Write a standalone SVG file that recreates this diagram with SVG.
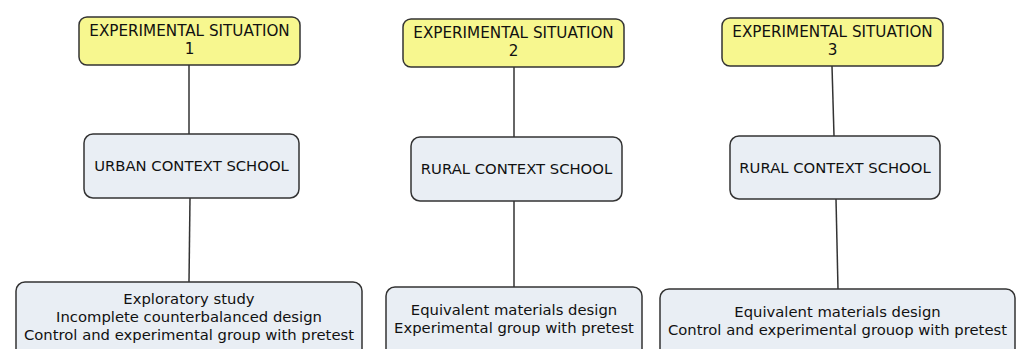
<svg xmlns="http://www.w3.org/2000/svg" width="1020" height="349" viewBox="0 0 1020 349">
<style>
.top{fill:#f7f78f;stroke:#333;stroke-width:1.5}
.mid{fill:#e9eef4;stroke:#333;stroke-width:1.5}
text{font-family:"DejaVu Sans",Verdana,sans-serif;font-size:14.8px;fill:#111;text-anchor:middle}
.t{font-size:15.2px}
.c{stroke:#333;stroke-width:1.5;fill:none}
</style>
<rect width="1020" height="349" fill="#fff"/>
<g id="connectors">
<line class="c" x1="189" y1="65" x2="189" y2="134"/>
<line class="c" x1="190" y1="198" x2="189" y2="282"/>
<line class="c" x1="514" y1="67" x2="514" y2="137"/>
<line class="c" x1="514" y1="201" x2="514" y2="287"/>
<line class="c" x1="832" y1="66" x2="834" y2="136"/>
<line class="c" x1="836" y1="199" x2="838" y2="289"/>
</g>
<g id="es1"><rect class="top" x="79" y="17" width="221" height="48" rx="8"/><text class="t" x="189.5" y="36">EXPERIMENTAL SITUATION</text><text class="t" x="189.5" y="54">1</text></g>
<g id="es2"><rect class="top" x="403" y="19" width="221" height="48" rx="8"/><text class="t" x="513.5" y="38">EXPERIMENTAL SITUATION</text><text class="t" x="513.5" y="56">2</text></g>
<g id="es3"><rect class="top" x="722" y="18" width="221" height="48" rx="8"/><text class="t" x="832.5" y="37">EXPERIMENTAL SITUATION</text><text class="t" x="832.5" y="55">3</text></g>
<g id="ctx1"><rect class="mid" x="84" y="134" width="215" height="64" rx="9"/><text x="191.5" y="171">URBAN CONTEXT SCHOOL</text></g>
<g id="ctx2"><rect class="mid" x="411" y="137" width="211" height="64" rx="9"/><text x="516.5" y="174">RURAL CONTEXT SCHOOL</text></g>
<g id="ctx3"><rect class="mid" x="730" y="136" width="210" height="63" rx="9"/><text x="835" y="173">RURAL CONTEXT SCHOOL</text></g>
<g id="d1"><rect class="mid" x="16" y="282" width="346" height="80" rx="9"/><text x="189" y="304">Exploratory study</text><text x="189" y="322">Incomplete counterbalanced design</text><text x="189" y="340">Control and experimental group with pretest</text></g>
<g id="d2"><rect class="mid" x="386" y="287" width="256" height="75" rx="9"/><text x="514" y="315">Equivalent materials design</text><text x="514" y="333">Experimental group with pretest</text></g>
<g id="d3"><rect class="mid" x="660" y="289" width="355" height="75" rx="9"/><text x="837.5" y="317">Equivalent materials design</text><text x="837.5" y="335">Control and experimental grouop with pretest</text></g>
</svg>
